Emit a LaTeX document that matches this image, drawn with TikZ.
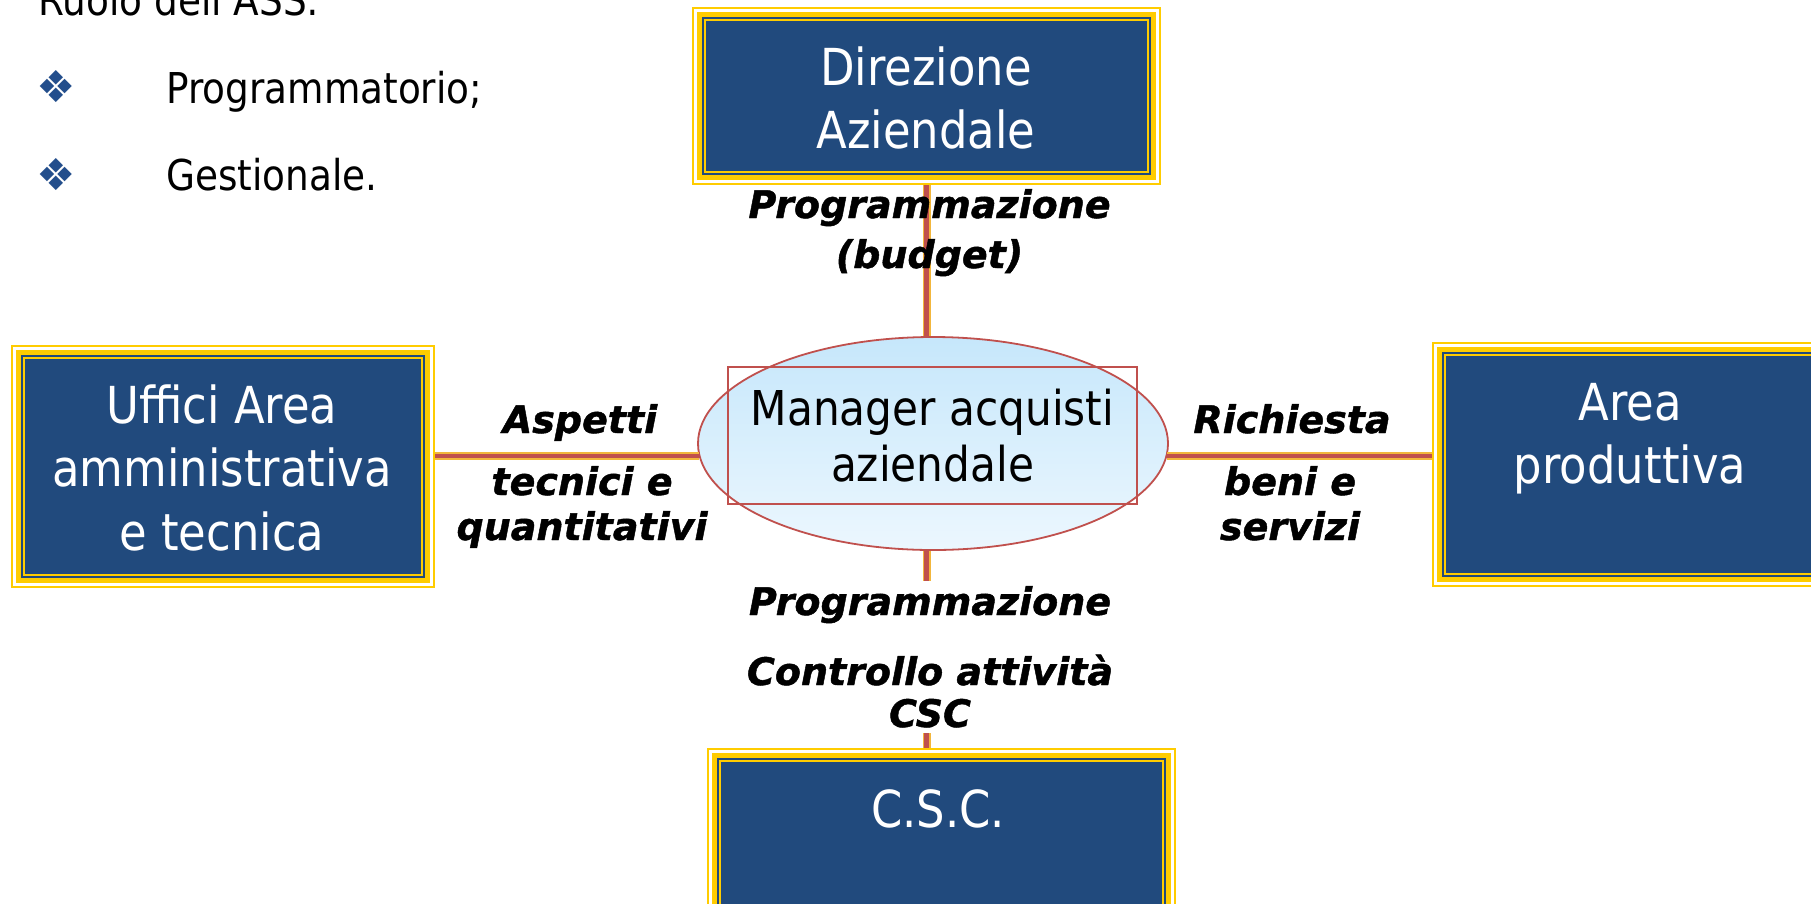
\documentclass[tikz,border=0pt]{standalone}
\usepackage{fontspec}
\setmainfont{DejaVu Sans}[FakeStretch=0.88]
\newfontfamily\labfont{DejaVu Sans}[BoldItalicFeatures={FakeBold=1.2}]
\newfontfamily\symfont{DejaVu Sans}
\usetikzlibrary{shapes.geometric,calc}
\definecolor{frY}{RGB}{255,204,0}
\definecolor{frB}{RGB}{33,74,125}
\definecolor{lnR}{RGB}{192,80,77}
\definecolor{lnY}{RGB}{242,182,60}
\definecolor{elTop}{RGB}{198,231,251}
\definecolor{elBot}{RGB}{236,247,254}
\definecolor{bulB}{RGB}{35,78,140}
\newcommand\frlayer[2]{\fill[#2] ([xshift=#1pt,yshift=-#1pt]path picture bounding box.north west) rectangle ([xshift=-#1pt,yshift=#1pt]path picture bounding box.south east);}
\tikzset{
  boxf/.style={rectangle, inner sep=0pt, fill=frY, path picture={
     \frlayer{2}{white}\frlayer{5}{frY}\frlayer{10}{frB}\frlayer{12}{frY}\frlayer{14}{frB}}},
  boxtext/.style={anchor=base, align=center, text=white, inner sep=0pt, font=\fontsize{51}{63}\selectfont},
  conn/.style={draw=lnY, line width=8pt, postaction={draw=lnR, line width=4.5pt}},
  lab/.style={anchor=base, align=center, inner sep=0pt, font=\labfont\bfseries\itshape\fontsize{38}{45}\selectfont},
  toptext/.style={anchor=base west, inner sep=0pt, font=\fontsize{42.5}{50}\selectfont},
  bul/.style={inner sep=0pt, text=bulB, font=\symfont\fontsize{44}{44}\selectfont}
}
\begin{document}
\begin{tikzpicture}[x=1pt,y=-1pt]
\useasboundingbox (0,0) rectangle (1811,903);
% top-left text
\node[toptext] (ttl) at (38,15) {Ruolo dell'ASS:};
\node[bul] (b1) at (56,87) {❖};
\node[toptext] (t1) at (166,103) {Programmatorio;};
\node[bul] (b2) at (56,175) {❖};
\node[toptext] (t2) at (166,190) {Gestionale.};
% boxes
\node[boxf, minimum width=469pt, minimum height=178pt] (dir) at (926.5,96) {};
\node[boxf, minimum width=424pt, minimum height=243pt] (lft) at (223,466.5) {};
\node[boxf, minimum width=396pt, minimum height=245pt] (rgt) at (1630,464.5) {};
\node[boxf, minimum width=469pt, minimum height=178pt] (csc) at (941.5,837) {};
\node[boxtext] (dirT) at (926,148) {Direzione\\Aziendale};
\node[boxtext, font=\fontsize{51}{63.5}\selectfont] (lftT) at (222,550) {Uffici Area\\amministrativa\\e tecnica};
\node[boxtext] (rgtT) at (1630,483) {Area\\produttiva};
\node[boxtext] (cscT) at (938,827) {C.S.C.};
% ellipse
\node[ellipse, minimum width=470pt, minimum height=213pt, inner sep=0pt, top color=elTop, bottom color=elBot, draw=lnR, line width=1.8pt] (ell) at (933,443.5) {};
\node[rectangle, draw=lnR, line width=1.5pt, minimum width=409pt, minimum height=137pt, inner sep=0pt, align=center, font=\fontsize{48}{56}\selectfont] (mgr) at (932.5,435.5) {Manager acquisti\\aziendale};
% connectors
\draw[conn] (dir.south) -- (dir.south |- ell.north);
\draw[conn] (dir.south |- ell.south) -- (dir.south |- csc.north);
\draw[conn] (lft.east |- ell.183.7) -- (ell.183.7);
\draw[conn] (ell.-3.7) -- (rgt.west |- ell.-3.7);
% labels
\node[lab, font=\labfont\bfseries\itshape\fontsize{38}{50}\selectfont] (lTop) at (929.5,268) {Programmazione\\(budget)};
\node[lab] (lL1) at (580,433) {Aspetti};
\node[lab] (lL2) at (582,540) {tecnici e\\quantitativi};
\node[lab] (lR1) at (1292,433) {Richiesta};
\node[lab] (lR2) at (1290,540) {beni e\\servizi};
\node[lab, fill=white, inner sep=5pt, font=\labfont\bfseries\itshape\fontsize{38}{42}\selectfont] (lBot) at (930,727) {Programmazione\\[28pt]Controllo attività\\CSC};
\end{tikzpicture}
\end{document}
